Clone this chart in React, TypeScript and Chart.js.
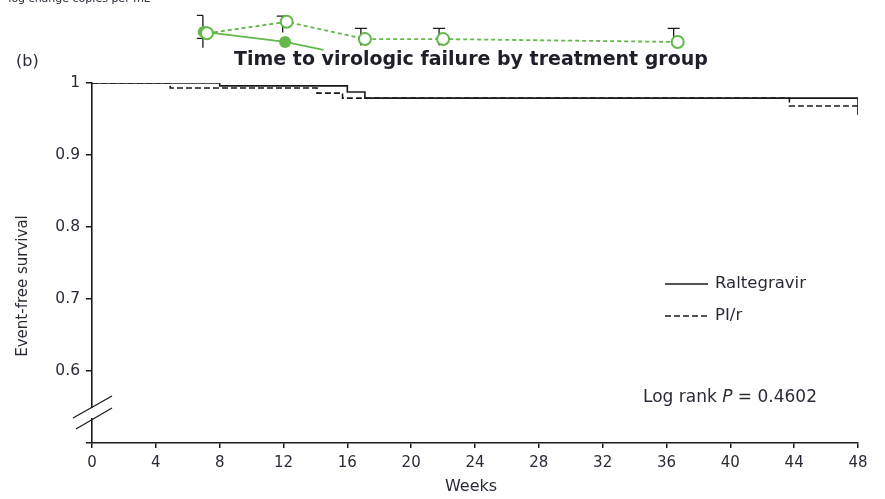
import React, { useEffect, useRef } from "react";
import { Chart, registerables } from "chart.js";

Chart.register(...registerables);

// Kaplan-Meier curves (weeks, event-free survival)
const raltegravirWeeks = [0, 8, 16, 17.1, 48, 48];
const raltegravirSurvival = [1, 0.996, 0.9875, 0.979, 0.979, 0.962];
const pirWeeks = [0, 4.9, 14.1, 15.7, 43.7, 48, 48];
const pirSurvival = [1, 0.993, 0.986, 0.979, 0.968, 0.968, 0.955];

// Fragment of the panel above (cropped), drawn on the same scales
const openWeeks = [7.2, 12.2, 17.1, 22.0, 36.7];
const openValues = [1.069, 1.085, 1.061, 1.061, 1.057];
const openUpper = [1.094, 1.093, 1.076, 1.076, 1.076];
const openLower = [1.049, 1.070, 1.052, 1.052, 1.057];
const filledWeeks = [7.0, 12.1, 14.5];
const filledValues = [1.071, 1.057, 1.046];
const filledMarker = [true, true, false];

const xTicks = [0, 4, 8, 12, 16, 20, 24, 28, 32, 36, 40, 44, 48];
const yTicks = [0.5, 0.6, 0.7, 0.8, 0.9, 1.0];

const FONT = '"DejaVu Sans", "Liberation Sans", Arial, sans-serif';
const GREEN = "#62b84a";
const INK = "#1a1a1a";
const TEXT = "#2b2b38";

const overlay = {
  id: "overlay",
  afterDatasetsDraw(chart: any) {
    const ctx = chart.ctx;
    const xs = chart.scales.x;
    const ys = chart.scales.y;
    ctx.save();
    // error bars of the top fragment
    ctx.strokeStyle = INK;
    ctx.lineWidth = 1.3;
    openWeeks.forEach((w, i) => {
      const x = xs.getPixelForValue(w) - 4;
      const yh = ys.getPixelForValue(openUpper[i]);
      const yl = ys.getPixelForValue(openLower[i]);
      ctx.beginPath();
      ctx.moveTo(x, yl);
      ctx.lineTo(x, yh);
      ctx.moveTo(x - 6, yh);
      ctx.lineTo(x + (i === 0 ? 0 : 6), yh);
      if (i === 0) {
        const ym = ys.getPixelForValue(openValues[i]) + 5;
        ctx.moveTo(x - 6, ym);
        ctx.lineTo(x, ym);
      }
      ctx.stroke();
    });
    // markers (drawn here because they lie outside the chart area)
    const filledMeta = chart.getDatasetMeta(2);
    filledMeta.data.forEach((p: any, i: number) => {
      if (!filledMarker[i]) return;
      ctx.beginPath();
      ctx.arc(p.x, p.y, 6, 0, Math.PI * 2);
      ctx.fillStyle = GREEN;
      ctx.fill();
    });
    const openMeta = chart.getDatasetMeta(3);
    openMeta.data.forEach((p: any) => {
      ctx.beginPath();
      ctx.arc(p.x, p.y, 6, 0, Math.PI * 2);
      ctx.fillStyle = "#ffffff";
      ctx.fill();
      ctx.lineWidth = 2;
      ctx.strokeStyle = GREEN;
      ctx.stroke();
    });
    ctx.restore();
  },
  afterDraw(chart: any) {
    const ctx = chart.ctx;
    ctx.save();

    // tiny cropped caption at very top
    ctx.fillStyle = TEXT;
    ctx.font = `11px ${FONT}`;
    ctx.textAlign = "right";
    ctx.textBaseline = "alphabetic";
    ctx.fillText("log change copies per mL", 150, 2);

    // title
    ctx.fillStyle = "#1f1f2a";
    ctx.font = `bold 19px ${FONT}`;
    ctx.textAlign = "center";
    ctx.textBaseline = "middle";
    ctx.fillText("Time to virologic failure by treatment group", 471, 60);

    // panel label
    ctx.font = `16px ${FONT}`;
    ctx.fillStyle = TEXT;
    ctx.textAlign = "left";
    ctx.fillText("(b)", 16, 62);

    // axis titles
    ctx.font = `16px ${FONT}`;
    ctx.textAlign = "center";
    ctx.fillText("Weeks", 471, 487);
    ctx.save();
    ctx.translate(23, 286);
    ctx.rotate(-Math.PI / 2);
    ctx.font = `15px ${FONT}`;
    ctx.fillText("Event-free survival", 0, 0);
    ctx.restore();

    // legend
    ctx.strokeStyle = INK;
    ctx.lineWidth = 1.5;
    ctx.beginPath();
    ctx.moveTo(665, 284);
    ctx.lineTo(708, 284);
    ctx.stroke();
    ctx.setLineDash([6, 3]);
    ctx.beginPath();
    ctx.moveTo(665, 316);
    ctx.lineTo(708, 316);
    ctx.stroke();
    ctx.setLineDash([]);
    ctx.textAlign = "left";
    ctx.font = `16.5px ${FONT}`;
    ctx.fillText("Raltegravir", 715, 284);
    ctx.fillText("PI/r", 715, 316);

    // log-rank text
    let x = 643;
    const yl = 398;
    const parts: [string, string][] = [
      ["Log rank ", `17px ${FONT}`],
      ["P", `italic 17px ${FONT}`],
      [" = 0.4602", `17px ${FONT}`],
    ];
    parts.forEach(([t, f]) => {
      ctx.font = f;
      ctx.fillText(t, x, yl);
      x += ctx.measureText(t).width;
    });

    // axis break
    ctx.fillStyle = "#ffffff";
    ctx.fillRect(88, 408, 8, 10);
    ctx.strokeStyle = INK;
    ctx.lineWidth = 1.3;
    ctx.beginPath();
    ctx.moveTo(73, 418);
    ctx.lineTo(112, 396);
    ctx.moveTo(76, 429);
    ctx.lineTo(112, 408);
    ctx.stroke();

    ctx.restore();
  },
};

export default function App() {
  const ref = useRef<HTMLCanvasElement | null>(null);

  useEffect(() => {
    if (!ref.current) return;
    const chart = new Chart(ref.current, {
      type: "line",
      data: {
        datasets: [
          {
            label: "Raltegravir",
            data: raltegravirWeeks.map((w, i) => ({ x: w, y: raltegravirSurvival[i] })),
            stepped: "before",
            borderColor: INK,
            borderWidth: 1.6,
            pointRadius: 0,
            fill: false,
          },
          {
            label: "PI/r",
            data: pirWeeks.map((w, i) => ({ x: w, y: pirSurvival[i] })),
            stepped: "before",
            borderColor: INK,
            borderWidth: 1.6,
            borderDash: [6, 3],
            pointRadius: 0,
            fill: false,
          },
          {
            label: "top-filled",
            data: filledWeeks.map((w, i) => ({ x: w, y: filledValues[i] })),
            borderColor: GREEN,
            borderWidth: 1.8,
            pointRadius: 0,
            clip: false,
          } as any,
          {
            label: "top-open",
            data: openWeeks.map((w, i) => ({ x: w, y: openValues[i] })),
            borderColor: GREEN,
            borderWidth: 1.8,
            borderDash: [4, 3],
            pointRadius: 0,
            clip: false,
          } as any,
        ],
      },
      options: {
        responsive: false,
        animation: false,
        layout: { padding: { top: 83, right: 27, left: 0, bottom: 0 } },
        plugins: {
          legend: { display: false },
          tooltip: { enabled: false },
          title: { display: false },
        },
        scales: {
          x: {
            type: "linear",
            min: 0,
            max: 48,
            afterBuildTicks: (s: any) => {
              s.ticks = xTicks.map((v) => ({ value: v }));
            },
            afterFit: (s: any) => {
              s.height = 56;
            },
            ticks: {
              font: { family: FONT, size: 15 },
              color: TEXT,
              padding: 6,
              maxRotation: 0,
              callback: (v: any) => String(v),
            },
            grid: {
              drawOnChartArea: false,
              tickLength: 5,
              color: INK,
              lineWidth: 1.5,
            },
            border: { color: INK, width: 1.6 },
          },
          y: {
            type: "linear",
            min: 0.5,
            max: 1.0,
            afterBuildTicks: (s: any) => {
              s.ticks = yTicks.map((v) => ({ value: v }));
            },
            afterFit: (s: any) => {
              s.width = 92;
            },
            ticks: {
              font: { family: FONT, size: 15.5 },
              color: TEXT,
              padding: 6,
              callback: (v: any) => {
                const r = Math.round(v * 10) / 10;
                if (r === 0.5) return "";
                if (r === 1) return "1";
                return r.toFixed(1);
              },
            },
            grid: {
              drawOnChartArea: false,
              tickLength: 6,
              color: INK,
              lineWidth: 1.5,
            },
            border: { color: INK, width: 1.6 },
          },
        },
      },
      plugins: [overlay],
    } as any);
    return () => chart.destroy();
  }, []);

  return (
    <div style={{ position: "absolute", left: 0, top: 0, width: 885, height: 499, background: "#fff" }}>
      <canvas ref={ref} width={885} height={499} style={{ display: "block" }} />
    </div>
  );
}
